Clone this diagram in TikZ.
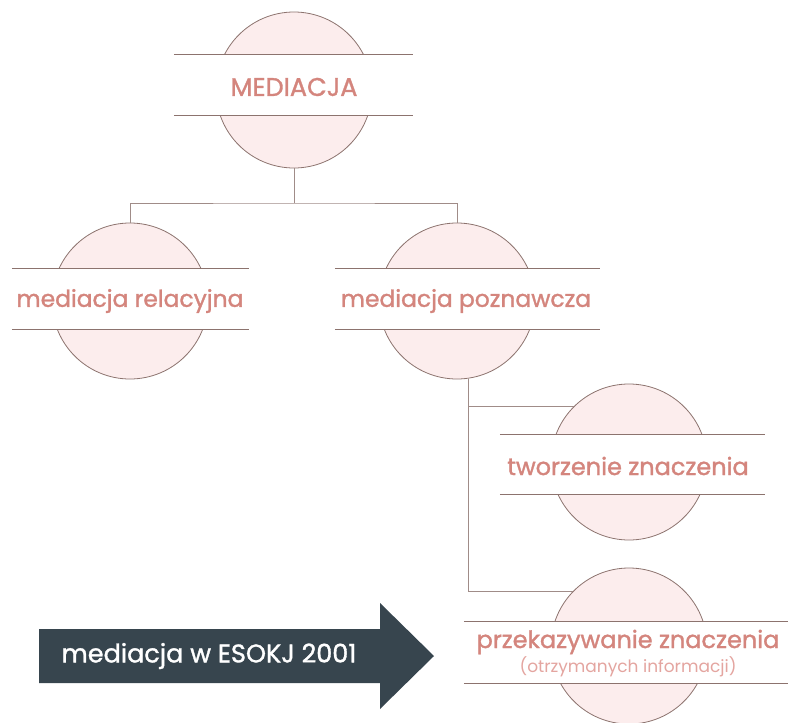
\documentclass[tikz,border=0pt]{standalone}
\usepackage{fontspec}
\setmainfont{Poppins}
\newfontfamily\medfont{Poppins}[FakeBold=1.3]
\newfontfamily\lightfont{Poppins}
\definecolor{pinktxt}{RGB}{212,133,125}
\definecolor{lighttxt}{RGB}{228,165,160}
\definecolor{pinkfill}{RGB}{252,237,237}
\definecolor{stroke}{RGB}{140,115,110}
\definecolor{conn}{RGB}{160,140,136}
\definecolor{slate}{RGB}{55,69,78}
\begin{document}
\begin{tikzpicture}[x=1pt,y=-1pt,
  disc/.style={circle, draw=stroke, fill=pinkfill, line width=0.8pt, minimum size=156pt, inner sep=0pt},
  band/.style={fill=white, draw=none, minimum height=60pt, inner sep=0pt},
  bandline/.style={draw=stroke, line width=0.8pt},
  lbl/.style={text=pinktxt, font=\medfont\fontsize{23.4}{26}\selectfont, inner sep=0pt},
  sublbl/.style={text=lighttxt, font=\lightfont\fontsize{17}{20}\selectfont, inner sep=0pt},
  link/.style={draw=conn, line width=0.8pt}]
\useasboundingbox (0,0) rectangle (788,723);
% discs
\node[disc] (c0) at (294,90) {};
\node[disc] (c1) at (130,301) {};
\node[disc] (c2) at (457,301) {};
\node[disc] (c3) at (629,462) {};
\node[disc] (c4) at (629,646) {};
% bands
\node[band, minimum width=239pt] (b0) at (293.5,85) {};
\node[band, minimum width=237pt] (b1) at (130.5,299) {};
\node[band, minimum width=265pt] (b2) at (467.5,299) {};
\node[band, minimum width=265pt] (b3) at (632.5,464.5) {};
\node[band, minimum width=324pt, minimum height=61pt] (b4) at (626,652.5) {};
\foreach \b in {b0,b1,b2,b3,b4}{
  \draw[bandline] (\b.north west) -- (\b.north east);
  \draw[bandline] (\b.south west) -- (\b.south east);
}
% labels
\node[lbl, font=\medfont\fontsize{25.5}{28}\selectfont] (t0) at (294,87) {MEDIACJA};
\node[lbl] (t1) at (130,301) {mediacja relacyjna};
\node[lbl] (t2) at (466,301) {mediacja poznawcza};
\node[lbl, font=\medfont\fontsize{24}{27}\selectfont] (t3) at (628,466) {tworzenie znaczenia};
\node[lbl, font=\medfont\fontsize{24}{27}\selectfont] (t4) at (628,642) {przekazywanie znaczenia};
\node[sublbl] (t5) at (628,667) {(otrzymanych informacji)};
% connectors
\coordinate (j0) at (294,203);
\draw[link] (c0.south) -- (j0);
\draw[link] (c1.north) |- (j0) -| (c2.north);
\draw[link] (c2.-82.6) |- (c3.135);
\draw[link] (c2.-82.6) |- (c4.136);
% arrow
\fill[slate] (39,629) -- (380,629) -- (380,603) -- (434,656) -- (380,709) -- (380,683) -- (39,683) -- cycle;
\node[text=white, font=\medfont\fontsize{25.5}{28}\selectfont, inner sep=0pt] (a) at (209,656) {mediacja w ESOKJ 2001};
\end{tikzpicture}
\end{document}
